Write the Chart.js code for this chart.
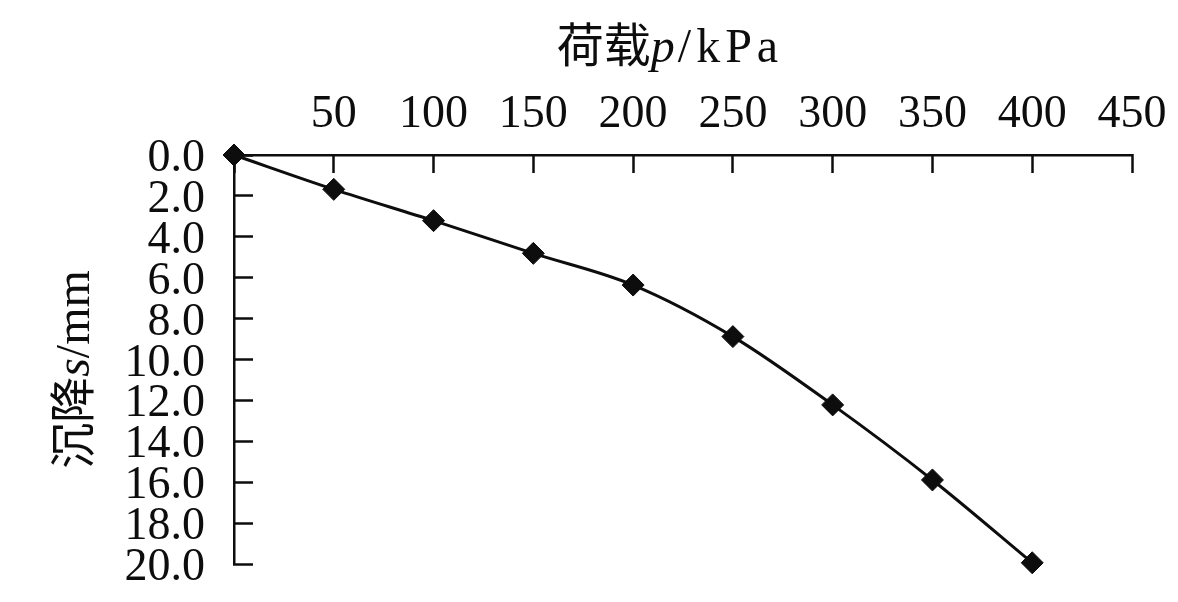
<!DOCTYPE html>
<html>
<head>
<meta charset="utf-8">
<script src="https://cdn.jsdelivr.net/npm/chart.js@4"></script>
<style>
    body { margin: 0; background: #fff; }
    #box { width: 1178px; height: 602px; }
</style>
</head>
<body>
<div id="box"><canvas id="grafico"></canvas></div>
<script>
    // dados (carga p em kPa, recalque s em mm)
    const cargas = [0, 50, 100, 150, 200, 250, 300, 350, 400];
    const recalques = [0, 1.68, 3.21, 4.81, 6.36, 8.88, 12.22, 15.89, 19.94];

    const eixoX = { min: 0, max: 450, passo: 50 };
    const eixoY = { min: 0, max: 20, passo: 2 };

    const tituloX = ['荷载', 'p', '/kPa'];
    const tituloY = ['沉降', 's', '/mm'];

    const preto = '#0d0d0d';
    const serif = '"Liberation Serif", "Times New Roman", serif';
    const cjk = '"Noto Sans CJK SC", sans-serif';

    // desenha um texto em partes (cjk, italico, normal) centrado em cx, alinhado pela base
    function textoPartes(ctx, partes, cx, base) {
        let total = 0;
        partes.forEach(p => {
            ctx.font = p.font;
            ctx.letterSpacing = p.esp || '0px';
            p.w = ctx.measureText(p.t).width;
            total += p.w;
        });
        let x = cx - total / 2;
        partes.forEach(p => {
            ctx.font = p.font;
            ctx.letterSpacing = p.esp || '0px';
            ctx.fillText(p.t, x, base);
            x += p.w;
        });
        ctx.letterSpacing = '0px';
    }

    const titulos = {
        id: 'titulos',
        afterDraw(chart) {
            const ctx = chart.ctx;
            const area = chart.chartArea;
            ctx.save();
            ctx.fillStyle = preto;
            ctx.textBaseline = 'alphabetic';
            ctx.textAlign = 'left';

            textoPartes(ctx, [
                { t: tituloX[0], font: '47px ' + cjk },
                { t: tituloX[1], font: 'italic 48px ' + serif, esp: '3px' },
                { t: tituloX[2], font: '48px ' + serif, esp: '5px' }
            ], (area.left + area.right) / 2 - 13, 62);

            ctx.translate(89, (area.top + area.bottom) / 2 + 10);
            ctx.rotate(-Math.PI / 2);
            textoPartes(ctx, [
                { t: tituloY[0], font: '46px ' + cjk },
                { t: tituloY[1], font: 'italic 48px ' + serif },
                { t: tituloY[2], font: '48px ' + serif }
            ], 0, 0);
            ctx.restore();
        }
    };

    const pontos = cargas.map((c, i) => ({ x: c, y: recalques[i] }));

    const config = {
        type: 'line',
        data: {
            datasets: [{
                data: pontos,
                borderColor: preto,
                borderWidth: 3,
                pointStyle: 'rectRot',
                pointRadius: 11,
                pointBackgroundColor: preto,
                pointBorderColor: preto,
                pointBorderWidth: 1,
                cubicInterpolationMode: 'monotone',
                clip: false
            }]
        },
        options: {
            responsive: true,
            maintainAspectRatio: false,
            animation: false,
            devicePixelRatio: 1,
            layout: { padding: { top: 0, left: 0, right: 46, bottom: 38 } },
            plugins: { legend: { display: false }, tooltip: { enabled: false } },
            scales: {
                x: {
                    type: 'linear',
                    position: 'top',
                    min: eixoX.min,
                    max: eixoX.max,
                    afterFit: (s) => {
                        s.height = 155;
                        s.paddingLeft = 0;
                        s.paddingRight = 0;
                    },
                    ticks: {
                        stepSize: eixoX.passo,
                        color: preto,
                        font: { family: serif, size: 46 },
                        padding: 30,
                        maxRotation: 0,
                        autoSkip: false,
                        callback: (v) => v === 0 ? '' : v
                    },
                    grid: {
                        drawOnChartArea: false,
                        tickLength: -18,
                        tickWidth: 2.5,
                        tickColor: preto
                    },
                    border: { color: preto, width: 2.5 }
                },
                y: {
                    type: 'linear',
                    position: 'left',
                    reverse: true,
                    min: eixoY.min,
                    max: eixoY.max,
                    afterFit: (s) => {
                        s.width = 234;
                        s.paddingTop = 0;
                        s.paddingBottom = 0;
                    },
                    ticks: {
                        stepSize: eixoY.passo,
                        color: preto,
                        font: { family: serif, size: 46 },
                        padding: 48,
                        labelOffset: 4,
                        autoSkip: false,
                        callback: (v) => v.toFixed(1)
                    },
                    grid: {
                        drawOnChartArea: false,
                        tickLength: -19,
                        tickWidth: 2.5,
                        tickColor: preto
                    },
                    border: { color: preto, width: 2.5 }
                }
            }
        },
        plugins: [titulos]
    };

    let myChart = new Chart(document.getElementById('grafico'), config);
</script>
</body>
</html>
